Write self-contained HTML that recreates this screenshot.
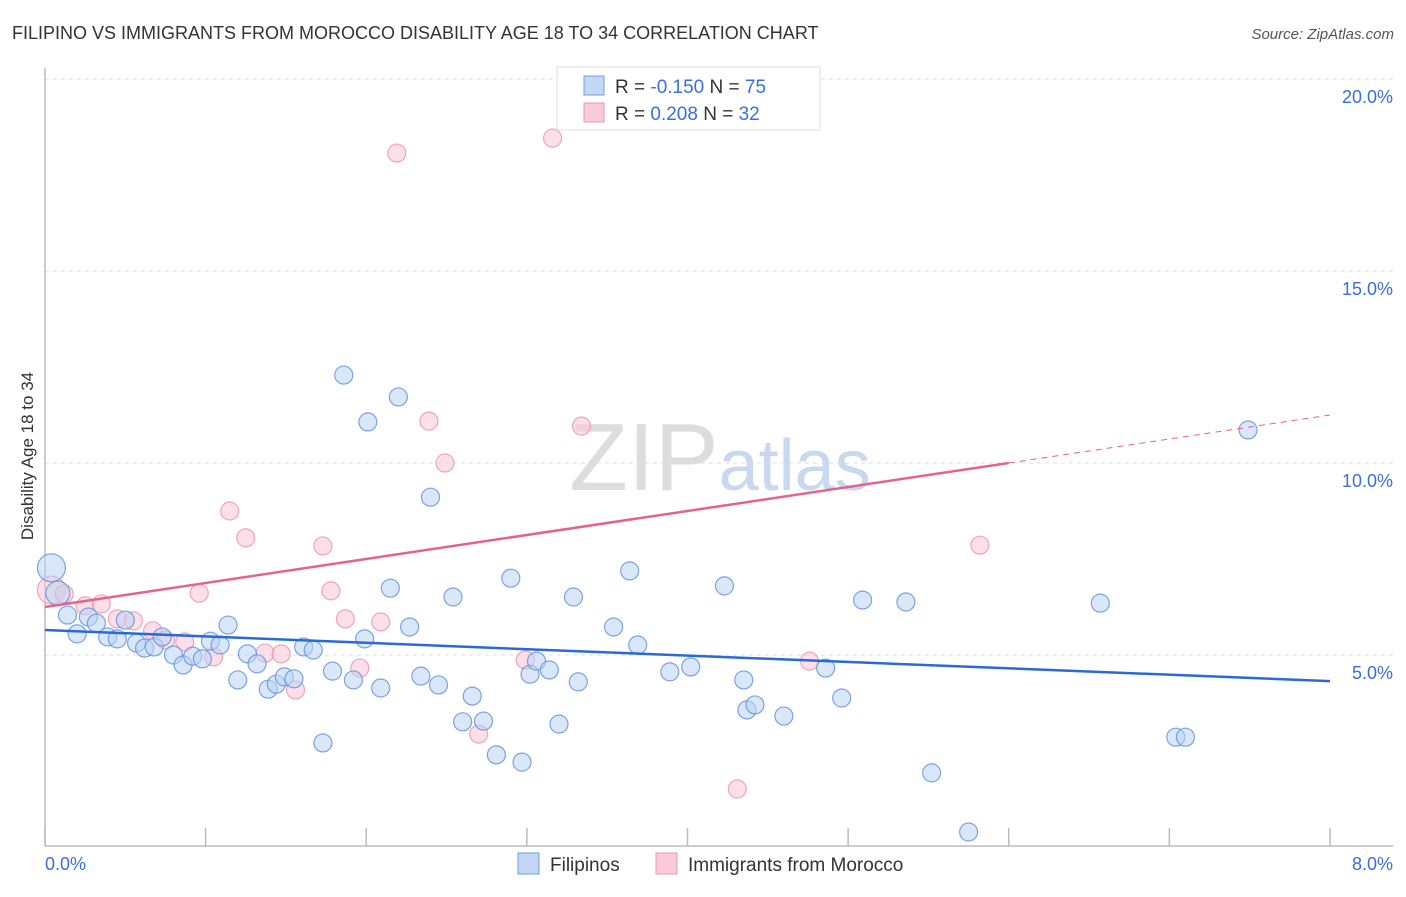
<!DOCTYPE html>
<html><head><meta charset="utf-8"><style>
body{margin:0;background:#fff;font-family:"Liberation Sans",sans-serif;}
svg text{font-family:"Liberation Sans",sans-serif;}
</style></head><body>
<svg id="chart" width="1406" height="892" viewBox="0 0 1406 892" xmlns="http://www.w3.org/2000/svg">
<text x="12" y="39" font-size="18" fill="#333">FILIPINO VS IMMIGRANTS FROM MOROCCO DISABILITY AGE 18 TO 34 CORRELATION CHART</text>
<text x="1394" y="39" font-size="15" fill="#555" text-anchor="end" font-style="italic">Source: ZipAtlas.com</text>
<text x="720" y="490" font-size="96" fill="#ddd" text-anchor="middle" font-family="Liberation Serif">ZIP<tspan fill="#c8d8ee" font-family="Liberation Sans" font-size="72">atlas</tspan></text>
<g id="grid"></g>
<line x1="45" y1="68" x2="45" y2="846" stroke="#bbb" stroke-width="1.5"/>
<line x1="45" y1="846" x2="1393" y2="846" stroke="#bbb" stroke-width="1.5"/>
<g id="xticks"></g>
<text transform="translate(33,456) rotate(-90)" font-size="17" fill="#333" text-anchor="middle">Disability Age 18 to 34</text>
<text x="45" y="870" font-size="18" fill="#3a6fd8">0.0%</text>
<text x="1393" y="870" font-size="18" fill="#3a6fd8" text-anchor="end">8.0%</text>
<g id="pts"></g>
<g id="lines"></g>
<g>
<rect x="557" y="67" width="263" height="63" fill="#fff" stroke="#ddd"/>
<rect x="584" y="76" width="20" height="19" fill="#c4d8f5" stroke="#6d9ce6"/>
<rect x="584" y="103" width="20" height="19" fill="#f9cad8" stroke="#ec96b2"/>
<text x="615" y="93" font-size="19" fill="#333">R = <tspan fill="#3a6fd8">-0.150</tspan>   N = <tspan fill="#3a6fd8">75</tspan></text>
<text x="615" y="120" font-size="19" fill="#333">R =  <tspan fill="#3a6fd8">0.208</tspan>   N = <tspan fill="#3a6fd8">32</tspan></text>
</g>
<g>
<rect x="518" y="853" width="21" height="21" fill="#c4d8f5" stroke="#6d9ce6"/>
<text x="550" y="871" font-size="19" fill="#333">Filipinos</text>
<rect x="656" y="853" width="21" height="21" fill="#f9cad8" stroke="#ec96b2"/>
<text x="688" y="871" font-size="19" fill="#333">Immigrants from Morocco</text>
</g>
</svg>
<script>
const yTicks=[5,10,15,20];
const xTicks=[0,1,2,3,4,5,6,7,8];
const blueX=[0.04,0.08,0.14,0.2,0.27,0.32,0.39,0.45,0.5,0.57,0.62,0.68,0.73,0.8,0.86,0.92,0.98,1.03,1.09,1.14,1.2,1.26,1.32,1.39,1.44,1.49,1.55,1.61,1.67,1.73,1.79,1.86,1.92,1.99,2.01,2.09,2.15,2.2,2.27,2.34,2.4,2.45,2.54,2.6,2.66,2.73,2.81,2.9,2.97,3.02,3.06,3.14,3.2,3.29,3.32,3.54,3.64,3.69,3.89,4.02,4.23,4.35,4.37,4.42,4.6,4.86,4.96,5.09,5.36,5.52,5.75,6.57,7.04,7.1,7.49];
const blueY=[7.27,6.61,6.04,5.55,5.99,5.83,5.47,5.42,5.91,5.31,5.18,5.21,5.47,5.0,4.74,4.97,4.9,5.36,5.26,5.78,4.35,5.03,4.77,4.11,4.24,4.43,4.38,5.21,5.13,2.71,4.58,12.29,4.35,5.42,11.07,4.14,6.74,11.72,5.73,4.45,9.11,4.22,6.51,3.26,3.93,3.28,2.4,7.0,2.21,4.5,4.84,4.61,3.2,6.51,4.3,5.73,7.19,5.26,4.56,4.69,6.8,4.35,3.57,3.7,3.41,4.66,3.88,6.43,6.38,1.93,0.39,6.35,2.86,2.86,10.86];
const pinkX=[0.04,0.12,0.25,0.35,0.45,0.55,0.67,0.75,0.87,0.96,1.05,1.15,1.25,1.37,1.47,1.56,1.73,1.78,1.87,1.96,2.09,2.19,2.39,2.49,2.7,2.99,3.16,3.25,3.34,4.31,4.76,5.82];
const pinkY=[6.69,6.59,6.28,6.33,5.94,5.89,5.63,5.39,5.34,6.61,4.95,8.75,8.05,5.05,5.03,4.09,7.84,6.67,5.94,4.66,5.86,18.07,11.09,10.0,2.94,4.87,18.46,19.11,10.96,1.51,4.84,7.86];
const blueTrend=[5.65,4.32];
const pinkTrend=[6.25,11.25];
const pinkSolidEnd=6.0;
const X=v=>45+v/8*1285, Y=v=>847-v*38.4;
const NS="http://www.w3.org/2000/svg";
function mk(t,a,p){const e=document.createElementNS(NS,t);for(const k in a)e.setAttribute(k,a[k]);p.appendChild(e);return e;}
const grid=document.getElementById('grid');
yTicks.forEach(t=>{
 const l=mk('line',{x1:45,x2:1393,y1:Y(t),y2:Y(t),stroke:'#ddd','stroke-dasharray':'4,4'},grid);
 
 
 const tx=mk('text',{x:1393,y:Y(t)+24,'font-size':18,fill:'#3a6fd8','text-anchor':'end'},grid);
 tx.textContent=t.toFixed(1)+'%';
 
 
});
const xt=document.getElementById('xticks');
xTicks.forEach(t=>{
 const l=mk('line',{x1:X(t),x2:X(t),y1:828,y2:846,stroke:'#bbb','stroke-width':1.5},xt);
 
 
});
const pts=document.getElementById('pts');
function draw(xs,ys,fill,stroke,name){xs.forEach((x,i)=>{
 const r=i===0?14:(i===1&&name==='filipino-point'?12:9);
 const c=mk('circle',{cx:X(x),cy:Y(ys[i]),r:r,fill:fill,'fill-opacity':0.55,stroke:stroke,'stroke-opacity':0.8,'stroke-width':1.2},pts);
 
 
});}
draw(pinkX,pinkY,'#f9c5d5','#e992ae','morocco-point');
draw(blueX,blueY,'#bcd3f3','#5b8ee0','filipino-point');
const lines=document.getElementById('lines');
const bl=mk('line',{x1:X(0),y1:Y(blueTrend[0]),x2:X(8),y2:Y(blueTrend[1]),stroke:'#2a6ad6','stroke-width':2.5},lines);


const pm=pinkTrend[0]+(pinkTrend[1]-pinkTrend[0])*pinkSolidEnd/8;
const pl=mk('line',{x1:X(0),y1:Y(pinkTrend[0]),x2:X(pinkSolidEnd),y2:Y(pm),stroke:'#e4628e','stroke-width':2.5},lines);


const pd=mk('line',{x1:X(pinkSolidEnd),y1:Y(pm),x2:X(8),y2:Y(pinkTrend[1]),stroke:'#e4628e','stroke-width':1,'stroke-dasharray':'6,5'},lines);


</script>
</body></html>
